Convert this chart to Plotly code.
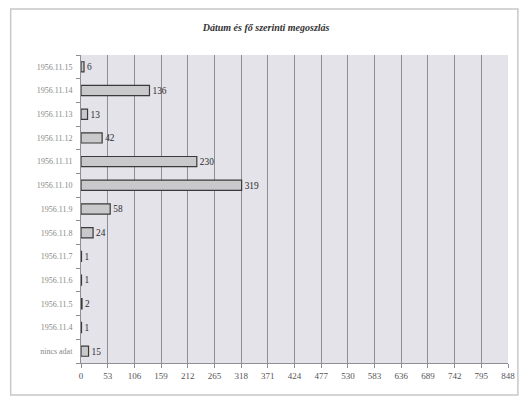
import plotly.graph_objects as go

categories = ["nincs adat", "1956.11.4", "1956.11.5", "1956.11.6", "1956.11.7", "1956.11.8",
              "1956.11.9", "1956.11.10", "1956.11.11", "1956.11.12", "1956.11.13",
              "1956.11.14", "1956.11.15"]
values = [15, 1, 2, 1, 1, 24, 58, 319, 230, 42, 13, 136, 6]
x_ticks = [0, 53, 106, 159, 212, 265, 318, 371, 424, 477, 530, 583, 636, 689, 742, 795, 848]
title_text = "Dátum és fő szerinti megoszlás"

serif = "Liberation Serif, Times New Roman, serif"

fig = go.Figure()
fig.add_trace(go.Bar(
    x=values, y=categories, orientation="h",
    marker=dict(color="#c9c9cb", line=dict(color="#3a3a3a", width=1.2)),
    text=[str(v) for v in values], textposition="outside",
    textfont=dict(family=serif, size=11, color="#2a2a2a"),
    cliponaxis=False,
))

fig.update_layout(
    width=527, height=398,
    margin=dict(l=81, r=15, t=55, b=35),
    paper_bgcolor="white",
    plot_bgcolor="#e3e3e9",
    bargap=0.57,
    showlegend=False,
    title=dict(text="<b><i>" + title_text + "</i></b>", x=0.505, xref="container",
               xanchor="center", y=0.932, yanchor="middle",
               font=dict(family=serif, size=10, color="#333333")),
    xaxis=dict(range=[0, 848], tickvals=x_ticks, ticktext=[str(t) for t in x_ticks],
               showgrid=True, gridcolor="#8e8e94", gridwidth=1,
               showline=True, linecolor="#8e8e94", linewidth=1,
               ticks="outside", ticklen=4, tickcolor="#8e8e94",
               tickfont=dict(family=serif, size=9, color="#555555"),
               zeroline=False, fixedrange=True),
    yaxis=dict(showgrid=False, showline=True, linecolor="#8e8e94", linewidth=1,
               ticks="outside", tickson="boundaries", ticklen=4, tickcolor="#8e8e94",
               tickfont=dict(family=serif, size=8, color="#888888"),
               ticklabelstandoff=6, fixedrange=True),
    shapes=[dict(type="rect", xref="paper", yref="paper",
                 x0=(10 - 81) / 431, x1=(522 - 81) / 431,
                 y0=(363 - 395) / 308, y1=(363 - 9) / 308,
                 line=dict(color="#c8c8c8", width=1.5), fillcolor="rgba(0,0,0,0)",
                 layer="below")],
)

fig.write_html("out.html")
